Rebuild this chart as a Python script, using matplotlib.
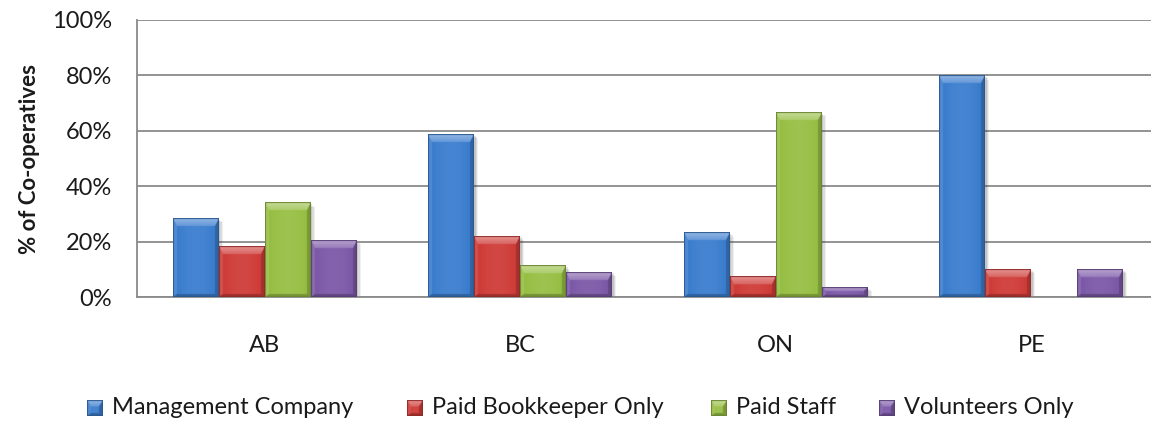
import numpy as np
import matplotlib
matplotlib.use("Agg")
import matplotlib.pyplot as plt
from matplotlib import patheffects
from matplotlib.colors import to_rgb
from matplotlib.ticker import PercentFormatter

# --- data (% of co-operatives by management type) ---
provinces = ["AB", "BC", "ON", "PE"]
management_company = [28.4, 58.8, 23.3, 80.0]
paid_bookkeeper = [18.2, 22.0, 7.3, 10.0]
paid_staff = [34.0, 11.2, 66.7, 0.0]
volunteers_only = [20.5, 9.0, 3.5, 10.0]

series_names = ["Management Company", "Paid Bookkeeper Only", "Paid Staff", "Volunteers Only"]
series_values = [management_company, paid_bookkeeper, paid_staff, volunteers_only]
series_colors = ["#3C7ECE", "#CF3D39", "#98BF45", "#7D5AA8"]

plt.rcParams["font.family"] = ["Lato", "DejaVu Sans"]

W, H, DPI = 1151, 424, 100
fig = plt.figure(figsize=(W / DPI, H / DPI), dpi=DPI)
ax = fig.add_axes([137 / W, 1 - 297 / H, 1022 / W, 277 / H])


def shade(base, s):
    s = s[..., None]
    return np.where(s > 0, base + (1 - base) * s, base * (1 + s))


def bevel_rgb(color, w, h, up=3):
    """Excel-like bevelled fill for a bar of w x h pixels."""
    base = np.array(to_rgb(color))
    w = max(int(round(w * up)), 2)
    h = max(int(round(h * up)), 2)
    yy, xx = np.mgrid[0:h, 0:w] + 0.5
    bt = min(8 * up, h / 2.5)
    bs = min(4 * up, w / 4)
    bb = min(3 * up, h / 4)
    dist = np.stack([yy / bt, xx / bs, (w - xx) / bs, (h - yy) / bb])
    edge = dist.argmin(0)
    d = dist.min(0)
    s = 0.10 * (1 - np.abs(2 * xx / w - 1) ** 2) - 0.05
    inside = d < 1
    s = np.where(inside & (edge == 0), 0.45 - 0.25 * d, s)
    s = np.where(inside & (edge == 1), 0.10, s)
    s = np.where(inside & (edge == 2), -0.20, s)
    s = np.where(inside & (edge == 3), -0.22, s)
    # thin dark outline
    rim = np.minimum.reduce([yy, xx, w - xx, h - yy]) < 0.9 * up
    s = np.where(rim, -0.3, s)
    return np.clip(shade(base, s), 0, 1)


x = np.arange(len(provinces))
bar_w = 0.18
offsets = (np.arange(4) - 1.5) * bar_w

ax.set_xlim(-0.5, len(provinces) - 0.5)
ax.set_ylim(0, 100)

px_x = ax.transData.transform((1, 0))[0] - ax.transData.transform((0, 0))[0]
px_y = ax.transData.transform((0, 1))[1] - ax.transData.transform((0, 0))[1]

shadow = [
    patheffects.SimplePatchShadow(offset=(1.0, -1.0), shadow_rgbFace="0.2", alpha=0.14),
    patheffects.SimplePatchShadow(offset=(2.0, -2.0), shadow_rgbFace="0.2", alpha=0.11),
    patheffects.SimplePatchShadow(offset=(3.0, -3.0), shadow_rgbFace="0.2", alpha=0.07),
    patheffects.Normal(),
]

for k, (vals, col) in enumerate(zip(series_values, series_colors)):
    xs = x + offsets[k]
    bars = ax.bar(xs, vals, width=bar_w, color=col, zorder=2, linewidth=0)
    for b, v in zip(bars, vals):
        if v <= 0:
            b.set_visible(False)
            continue
        b.set_path_effects(shadow)
        x0 = b.get_x()
        img = bevel_rgb(col, bar_w * px_x, v * px_y)
        ax.imshow(img, extent=(x0, x0 + bar_w, 0, v), aspect="auto",
                  interpolation="bilinear", zorder=3)

ax.set_xlim(-0.5, len(provinces) - 0.5)
ax.set_ylim(0, 100)

grid_c = "#8A8A8A"
ax.set_yticks(np.arange(0, 101, 20))
ax.yaxis.set_major_formatter(PercentFormatter(decimals=0))
ax.yaxis.grid(True, color=grid_c, linewidth=1.3, zorder=0)
ax.set_axisbelow(True)
ax.set_xticks(x)
ax.set_xticklabels(provinces)
ax.tick_params(axis="y", length=0, pad=18, labelsize=17, labelcolor="#1a1a1a")
ax.tick_params(axis="x", length=0, pad=27, labelsize=17, labelcolor="#1a1a1a")
for side in ("top", "right"):
    ax.spines[side].set_visible(False)
ax.spines["left"].set_color(grid_c)
ax.spines["left"].set_linewidth(1.3)
ax.spines["bottom"].set_color(grid_c)
ax.spines["bottom"].set_linewidth(1.3)

fig.text(30 / W, 1 - 159 / H, "% of Co-operatives", rotation=90, ha="center",
         va="center", fontsize=16, fontweight="bold", color="#1a1a1a")

# legend drawn by hand: bevelled swatch + label
swatch_left = [87, 407, 711, 879]
legend_y = 408
sw = 16
for left, name, col in zip(swatch_left, series_names, series_colors):
    sax = fig.add_axes([left / W, 1 - (legend_y + sw / 2) / H, sw / W, sw / H])
    sax.imshow(bevel_rgb(col, sw, sw, up=2), aspect="auto", interpolation="bilinear")
    sax.axis("off")
    fig.text((left + sw + 9) / W, 1 - legend_y / H, name, ha="left", va="center",
             fontsize=17, color="#1a1a1a")

fig.savefig("out.png", dpi=DPI)
